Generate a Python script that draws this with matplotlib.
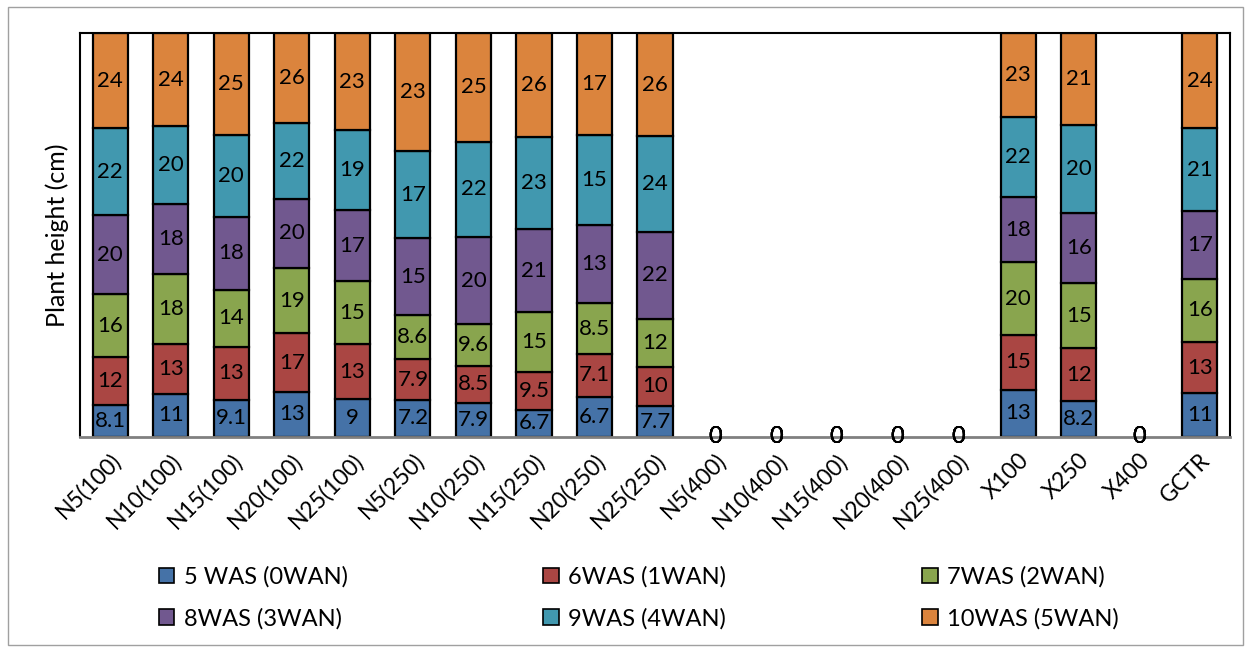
import numpy as np
import matplotlib.pyplot as plt
from matplotlib.patches import Rectangle

# treatments on the x axis
categories = ['N5(100)', 'N10(100)', 'N15(100)', 'N20(100)', 'N25(100)',
              'N5(250)', 'N10(250)', 'N15(250)', 'N20(250)', 'N25(250)',
              'N5(400)', 'N10(400)', 'N15(400)', 'N20(400)', 'N25(400)',
              'X100', 'X250', 'X400', 'GCTR']

# plant height per week (cm)
was5 = [8.1, 11, 9.1, 13, 9, 7.2, 7.9, 6.7, 6.7, 7.7, 0, 0, 0, 0, 0, 13, 8.2, 0, 11]
was6 = [12, 13, 13, 17, 13, 7.9, 8.5, 9.5, 7.1, 10, 0, 0, 0, 0, 0, 15, 12, 0, 13]
was7 = [16, 18, 14, 19, 15, 8.6, 9.6, 15, 8.5, 12, 0, 0, 0, 0, 0, 20, 15, 0, 16]
was8 = [20, 18, 18, 20, 17, 15, 20, 21, 13, 22, 0, 0, 0, 0, 0, 18, 16, 0, 17]
was9 = [22, 20, 20, 22, 19, 17, 22, 23, 15, 24, 0, 0, 0, 0, 0, 22, 20, 0, 21]
was10 = [24, 24, 25, 26, 23, 23, 25, 26, 17, 26, 0, 0, 0, 0, 0, 23, 21, 0, 24]

series_names = ['5 WAS (0WAN)', '6WAS (1WAN)', '7WAS (2WAN)',
                '8WAS (3WAN)', '9WAS (4WAN)', '10WAS (5WAN)']
colors = ['#4572a7', '#aa4643', '#89a54e', '#71588f', '#4198af', '#db843d']

plt.rcParams['font.family'] = ['Lato', 'DejaVu Sans']

data = np.array([was5, was6, was7, was8, was9, was10], dtype=float)
totals = data.sum(axis=0)
share = np.divide(data, totals, out=np.zeros_like(data), where=totals > 0)

fig = plt.figure(figsize=(12.5, 6.52), dpi=100)
ax = fig.add_axes([0.064, 0.330, 0.920, 0.619])

x = np.arange(len(categories))
bottom = np.zeros(len(categories))
handles = []
for i in range(len(series_names)):
    # empty treatments get no outline, only their "0" label
    lw = np.where(totals > 0, 1.6, 0.0)
    h = ax.bar(x, share[i], 0.58, bottom=bottom, color=colors[i],
               edgecolor='black', linewidth=lw, label=series_names[i])
    handles.append(h)
    for j in range(len(categories)):
        v = data[i, j]
        fs = 16 if totals[j] > 0 else 17
        ax.text(x[j], bottom[j] + share[i, j] / 2, '%g' % v, ha='center',
                va='center', fontsize=fs, color='black')
    bottom += share[i]

ax.set_xlim(-0.5, len(categories) - 0.5)
ax.set_ylim(0, 1)
ax.set_yticks([])
ax.set_xticks(x)
ax.set_xticklabels(categories, rotation=45, ha='right', rotation_mode='anchor',
                   fontsize=16.5)
ax.tick_params(axis='x', length=0, pad=9)
for s in ['top', 'right', 'left']:
    ax.spines[s].set_color('black')
    ax.spines[s].set_linewidth(1.5)
ax.spines['bottom'].set_color('#808080')
ax.spines['bottom'].set_linewidth(2)
ax.set_zorder(1)
ax.set_ylabel('Plant height (cm)', fontsize=18, labelpad=8)

order = [0, 3, 1, 4, 2, 5]
leg = fig.legend([handles[k] for k in order], [series_names[k] for k in order],
                 ncol=3, loc='center', bbox_to_anchor=(0.511, 0.083), frameon=False,
                 fontsize=17, handlelength=0.65, handleheight=0.65, handletextpad=0.4,
                 columnspacing=8.3, labelspacing=0.85)
for p in leg.get_patches():
    p.set_linewidth(1.2)

fig.patches.append(Rectangle((0.006, 0.011), 0.988, 0.978, transform=fig.transFigure,
                             fill=False, edgecolor='#a0a0a0', linewidth=1))

fig.savefig('out.png', dpi=100)
